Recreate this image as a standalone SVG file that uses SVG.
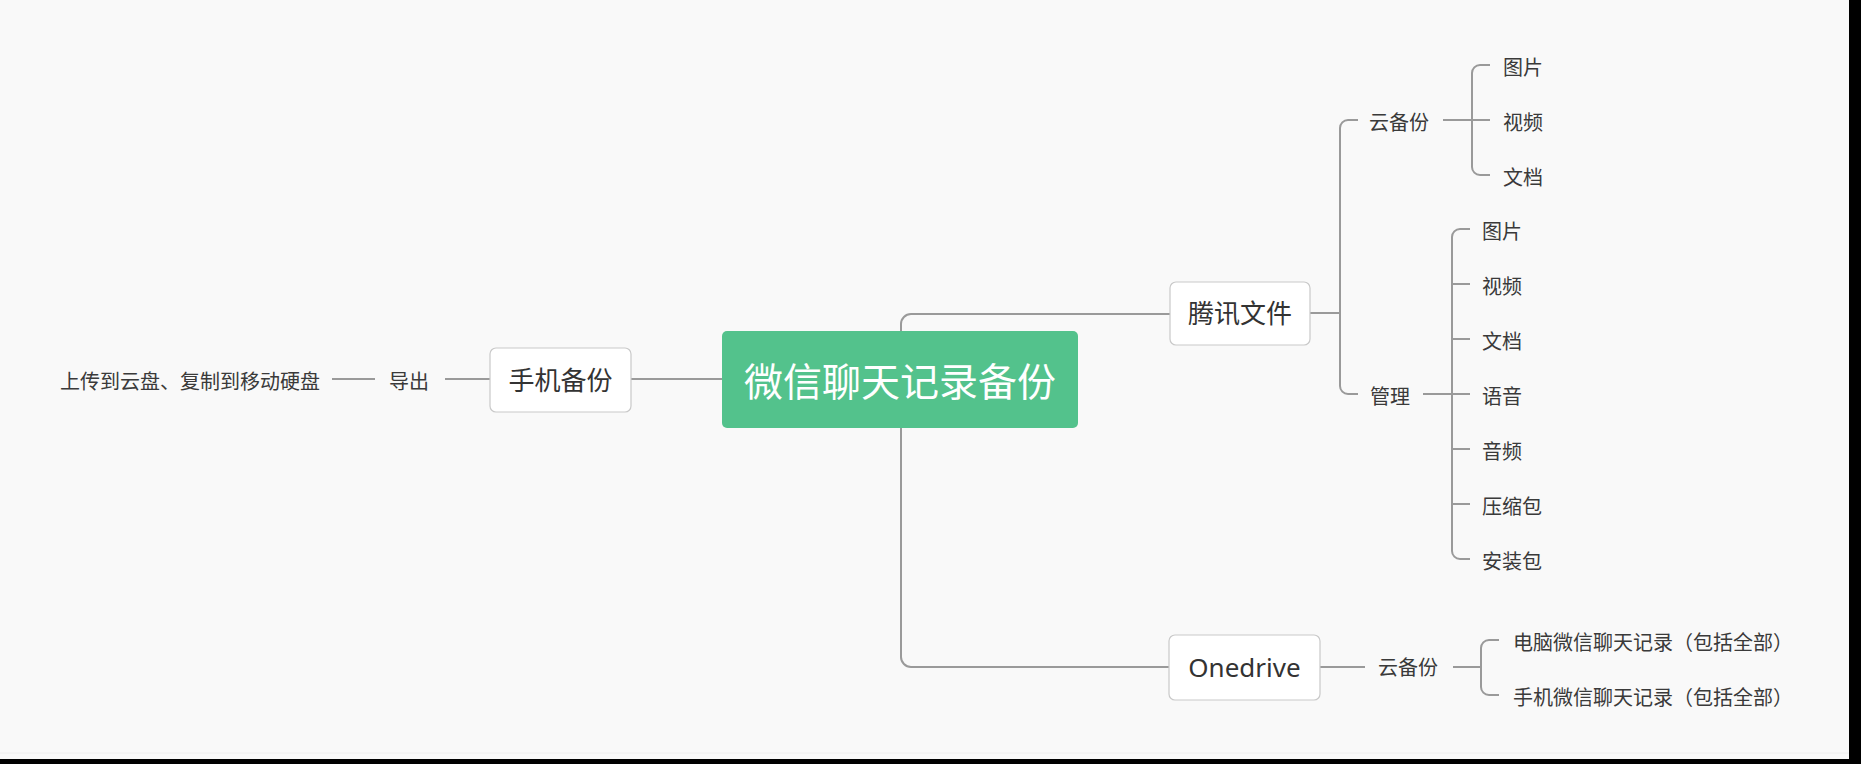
<svg xmlns="http://www.w3.org/2000/svg" width="1861" height="764" viewBox="0 0 1861 764">
<defs>
<style>
.bg{fill:#000}
.canvas{fill:#f9f9f9}
.ln{fill:none;stroke:#9a9a9a;stroke-width:2}
.box{fill:#fff;stroke:#c9c9c9;stroke-width:1.2}
.root{fill:#53c28c}
.t{font-family:"Noto Sans CJK SC","Noto Sans",sans-serif;fill:#3a3a3a;font-size:20px}
.tb{font-family:"Noto Sans","Noto Sans CJK SC",sans-serif;fill:#333;font-size:26px;text-anchor:middle}
.tr{font-family:"Noto Sans CJK SC",sans-serif;fill:#fff;font-size:39px;text-anchor:middle}
.m{text-anchor:middle}
.e{text-anchor:end}
</style>
</defs>
<rect class="bg" x="0" y="0" width="1861" height="764"/>
<rect class="canvas" x="0" y="0" width="1849" height="759"/>
<line x1="0" y1="753" x2="1849" y2="753" stroke="#eeeeee" stroke-width="1"/>

<g id="connectors">
  <!-- root to phone backup -->
  <path class="ln" d="M631 379 H722"/>
  <path class="ln" d="M445 379 H490"/>
  <path class="ln" d="M332 379 H375"/>
  <!-- root to tencent -->
  <path class="ln" d="M901 331 V324 A10 10 0 0 1 911 314 H1170"/>
  <!-- root to onedrive -->
  <path class="ln" d="M901 428 V657 A10 10 0 0 0 911 667 H1169"/>
  <!-- tencent branches -->
  <path class="ln" d="M1310 313 H1340"/>
  <path class="ln" d="M1358 120 H1348 A8 8 0 0 0 1340 128 V386 A8 8 0 0 0 1348 394 H1358"/>
  <!-- cloud backup children -->
  <path class="ln" d="M1443 120 H1490"/>
  <path class="ln" d="M1490 65 H1480 A8 8 0 0 0 1472 73 V167 A8 8 0 0 0 1480 175 H1490"/>
  <!-- manage children -->
  <path class="ln" d="M1423 394 H1470"/>
  <path class="ln" d="M1470 229 H1460 A8 8 0 0 0 1452 237 V551 A8 8 0 0 0 1460 559 H1470"/>
  <path class="ln" d="M1452 284 H1470 M1452 339 H1470 M1452 449 H1470 M1452 504 H1470"/>
  <!-- onedrive -->
  <path class="ln" d="M1320 667 H1365"/>
  <path class="ln" d="M1453 667 H1481"/>
  <path class="ln" d="M1499 640 H1489 A8 8 0 0 0 1481 648 V687 A8 8 0 0 0 1489 695 H1499"/>
</g>

<g id="root">
  <rect class="root" x="722" y="331" width="356" height="97" rx="5"/>
  <text class="tr" x="900" y="396">微信聊天记录备份</text>
</g>

<g id="phone-backup">
  <rect class="box" x="490" y="348" width="141" height="64" rx="6"/>
  <text class="tb" x="560.5" y="390">手机备份</text>
</g>
<g id="export">
  <text class="t m" x="409" y="389">导出</text>
</g>
<g id="upload">
  <text class="t e" x="320" y="389">上传到云盘、复制到移动硬盘</text>
</g>

<g id="tencent">
  <rect class="box" x="1170" y="282" width="140" height="63" rx="6"/>
  <text class="tb" x="1240" y="323">腾讯文件</text>
</g>
<g id="tc-cloud">
  <text class="t" x="1369" y="130">云备份</text>
</g>
<g id="tc-cloud-img"><text class="t" x="1503" y="75">图片</text></g>
<g id="tc-cloud-video"><text class="t" x="1503" y="130">视频</text></g>
<g id="tc-cloud-doc"><text class="t" x="1503" y="185">文档</text></g>

<g id="tc-manage">
  <text class="t" x="1370" y="404">管理</text>
</g>
<g id="m-img"><text class="t" x="1482" y="239">图片</text></g>
<g id="m-video"><text class="t" x="1482" y="294">视频</text></g>
<g id="m-doc"><text class="t" x="1482" y="349">文档</text></g>
<g id="m-voice"><text class="t" x="1482" y="404">语音</text></g>
<g id="m-audio"><text class="t" x="1482" y="459">音频</text></g>
<g id="m-zip"><text class="t" x="1482" y="514">压缩包</text></g>
<g id="m-apk"><text class="t" x="1482" y="569">安装包</text></g>

<g id="onedrive">
  <rect class="box" x="1169" y="635" width="151" height="65" rx="6"/>
  <text class="tb" x="1244.5" y="677">Onedrive</text>
</g>
<g id="od-cloud">
  <text class="t" x="1378" y="675">云备份</text>
</g>
<g id="od-pc"><text class="t" x="1513" y="650">电脑微信聊天记录（包括全部）</text></g>
<g id="od-phone"><text class="t" x="1513" y="705">手机微信聊天记录（包括全部）</text></g>
</svg>
